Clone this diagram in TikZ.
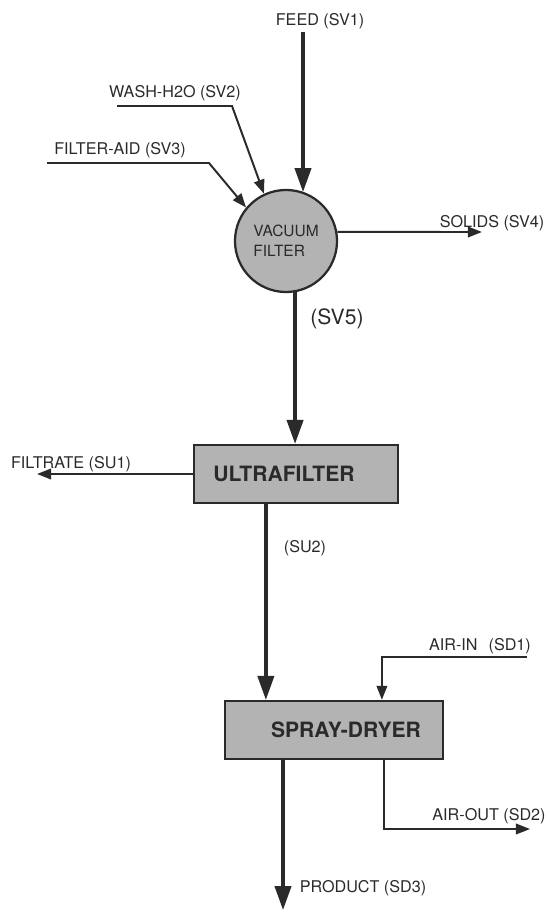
\documentclass[tikz,border=0pt]{standalone}
\usepackage{fontspec}
\setmainfont{TeX Gyre Heros}
\usetikzlibrary{arrows.meta,positioning}
\definecolor{ink}{HTML}{2A2A2A}
\definecolor{unitgray}{HTML}{B3B3B3}

\begin{document}
\begin{tikzpicture}[x=0.025cm,y=-0.025cm,
  every node/.style={text=ink,inner sep=0pt},
  lbl/.style={font=\fontsize{11.5}{13}\selectfont},
  unitbox/.style={draw=ink,fill=unitgray,line width=1.6pt},
  unittxt/.style={font=\bfseries\fontsize{15}{18}\selectfont},
  thickflow/.style={draw=ink,line width=2.4pt,-{Triangle[length=17pt,width=11.5pt]}},
  thinflow/.style={draw=ink,line width=1.4pt,-{Triangle[length=10pt,width=7.5pt]}}]
\useasboundingbox (0,0) rectangle (550,912);
% units
\node(vf)[unitbox,circle,minimum size=2.55cm,align=left,font=\fontsize{11}{14}\selectfont] at (286,241) {VACUUM\\FILTER};
\node(uf)[unitbox,minimum width=5.1cm,minimum height=1.45cm] at (296,474) {};
\node(uft)[unittxt] at ([xshift=-0.3cm]uf.center) {ULTRAFILTER};
\node(sd)[unitbox,minimum width=5.45cm,minimum height=1.45cm] at (334,730) {};
\node(sdt)[unittxt] at ([xshift=0.3cm]sd.center) {SPRAY-DRYER};
% stream labels
\node(feedt)[lbl] at (320,21) {FEED (SV1)};
\node(washt)[lbl] at (175,93) {WASH-H2O (SV2)};
\node(fat)[lbl] at (120,150) {FILTER-AID (SV3)};
\node(solt)[lbl] at (492,223) {SOLIDS (SV4)};
\node(sv5t)[font=\fontsize{15}{18}\selectfont] at (337,319) {(SV5)};
\node(filt)[lbl] at (71,464) {FILTRATE (SU1)};
\node(su2t)[lbl] at (305,548) {(SU2)};
\node(airint)[lbl] at (480,646) {AIR-IN\hspace{0.4em} (SD1)};
\node(airoutt)[lbl] at (489,816) {AIR-OUT (SD2)};
\node(prodt)[lbl] at (363,888) {PRODUCT (SD3)};
% stream ends
\coordinate(feed) at (303,32);
\coordinate(wash) at (117,106);
\coordinate(fa) at (47,163);
\coordinate(solids) at (482,232);
\coordinate(filtrate) at (37,474);
\coordinate(airin) at (527,657);
\coordinate(airout) at (530,829);
\coordinate(product) at (283,910);
% streams
\draw[thickflow](feed)--(feed |- vf.70);
\draw[thinflow](wash)--(232,106)--(vf.115);
\draw[thinflow](fa)--(209,163)--(vf.140);
\draw[thinflow](vf.10)--(solids);
\draw[thickflow](vf.-80)--(vf.-80 |- uf.north);
\draw[thinflow](uf.west)--(filtrate);
\draw[thickflow]([xshift=1.825cm]uf.south west)--([xshift=1.825cm]uf.south west |- sd.north);
\draw[thinflow](airin)-|([xshift=3.95cm]sd.north west);
\draw[thinflow]([xshift=4cm]sd.south west)|-(airout);
\draw[thickflow](product |- sd.south)--(product);
\end{tikzpicture}
\end{document}
